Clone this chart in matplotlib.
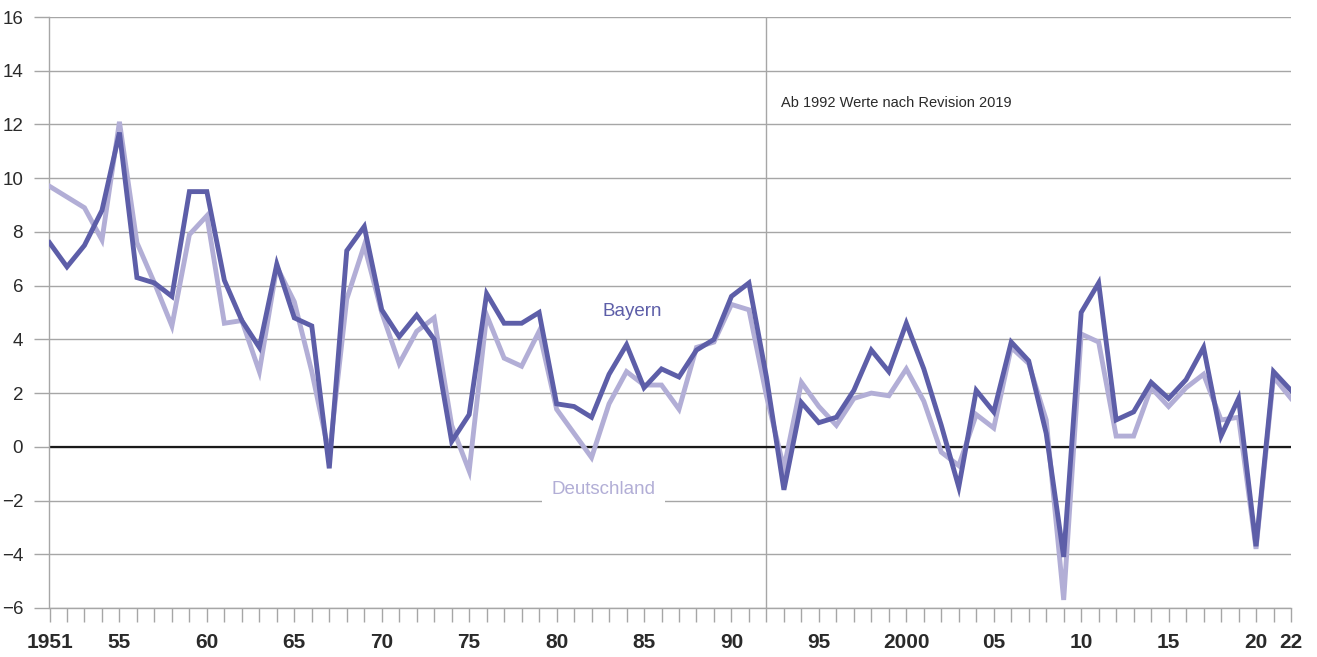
import numpy as np
import matplotlib
matplotlib.use("Agg")
from matplotlib import pyplot as plt

# Veränderung des BIP gegenüber dem Vorjahr in %
years = list(range(1951, 2023))

bayern = [
    7.6, 6.7, 7.5, 8.8, 11.7, 6.3, 6.1, 5.6, 9.5, 9.5,      # 1951-1960
    6.2, 4.7, 3.7, 6.8, 4.8, 4.5, -0.8, 7.3, 8.2, 5.1,      # 1961-1970
    4.1, 4.9, 4.0, 0.2, 1.2, 5.7, 4.6, 4.6, 5.0, 1.6,       # 1971-1980
    1.5, 1.1, 2.7, 3.8, 2.2, 2.9, 2.6, 3.6, 4.0, 5.6,       # 1981-1990
    6.1, 2.6, -1.6, 1.65, 0.9, 1.1, 2.1, 3.6, 2.8, 4.6,     # 1991-2000
    2.9, 0.8, -1.5, 2.1, 1.3, 3.9, 3.2, 0.5, -4.1, 5.0,     # 2001-2010
    6.1, 1.0, 1.3, 2.4, 1.8, 2.5, 3.7, 0.4, 1.8, -3.7,      # 2011-2020
    2.8, 2.1,                                               # 2021-2022
]

deutschland = [
    9.7, 9.3, 8.9, 7.7, 12.1, 7.6, 6.1, 4.5, 7.9, 8.6,      # 1951-1960
    4.6, 4.7, 2.8, 6.7, 5.4, 2.8, -0.3, 5.5, 7.5, 5.0,      # 1961-1970
    3.1, 4.3, 4.8, 0.8, -0.9, 4.9, 3.3, 3.0, 4.3, 1.4,      # 1971-1980
    0.5, -0.4, 1.6, 2.8, 2.3, 2.3, 1.4, 3.7, 3.9, 5.3,      # 1981-1990
    5.1, 1.9, -0.8, 2.4, 1.5, 0.8, 1.8, 2.0, 1.9, 2.9,      # 1991-2000
    1.7, -0.2, -0.7, 1.2, 0.7, 3.7, 3.1, 1.0, -5.7, 4.2,    # 2001-2010
    3.9, 0.4, 0.4, 2.2, 1.5, 2.2, 2.7, 1.0, 1.1, -3.8,      # 2011-2020
    2.6, 1.8,                                               # 2021-2022
]

label_years = [1951, 1955, 1960, 1965, 1970, 1975, 1980, 1985, 1990,
               1995, 2000, 2005, 2010, 2015, 2020, 2022]
label_text = ["1951", "55", "60", "65", "70", "75", "80", "85", "90",
              "95", "2000", "05", "10", "15", "20", "22"]

c_bayern = "#5d5ea8"
c_de = "#b2aed6"
c_grid = "#a6a6a6"
c_text = "#2a2a2a"
sans = ["Liberation Sans", "DejaVu Sans"]

fig = plt.figure(figsize=(13.17, 6.57), dpi=100)
ax = fig.add_axes([49.5 / 1317, 1 - 608 / 657, (1291 - 49.5) / 1317, (608 - 17) / 657])

ax.plot(years, deutschland, color=c_de, lw=3.5, solid_joinstyle="miter", zorder=3)
ax.plot(years, bayern, color=c_bayern, lw=3.5, solid_joinstyle="miter", zorder=4)

ax.set_xlim(1951, 2022)
ax.set_ylim(-6, 16)

# y axis
ax.set_yticks(np.arange(-6, 17, 2))
ax.set_yticklabels([str(v).replace("-", "\u2212") for v in range(-6, 17, 2)],
                   family=sans, fontsize=13.5, color=c_text)
ax.tick_params(axis="y", length=11, width=1, color=c_grid, pad=8)
ax.grid(axis="y", color=c_grid, lw=1, zorder=1)
ax.axhline(0, color="#1a1a1a", lw=1.6, zorder=2)

# x axis
ax.set_xticks(years)
ax.set_xticklabels([label_text[label_years.index(y)] if y in label_years else "" for y in years],
                   family=sans, fontweight="bold", fontsize=15, color=c_text)
ax.tick_params(axis="x", length=10, width=1, color=c_grid, pad=8)

for side in ["top", "right"]:
    ax.spines[side].set_visible(False)
for side in ["left", "bottom"]:
    ax.spines[side].set_color(c_grid)
    ax.spines[side].set_linewidth(1)

ax.axvline(1992, color=c_grid, lw=1, zorder=1)

ax.text(1992.85, 12.8, "Ab 1992 Werte nach Revision 2019", fontsize=10.5,
        family=sans, color=c_text, va="center", ha="left")

ax.text(1984.3, 5.05, "Bayern", fontsize=13.5, color=c_bayern, ha="center", va="center",
        family=sans, zorder=5)
ax.text(1982.7, -1.6, "Deutschland", fontsize=13.5, color=c_de, ha="center", va="center",
        family=sans, zorder=5,
        bbox=dict(boxstyle="square,pad=0.5", fc="white", ec="none"))

fig.savefig("out.png", dpi=100)
